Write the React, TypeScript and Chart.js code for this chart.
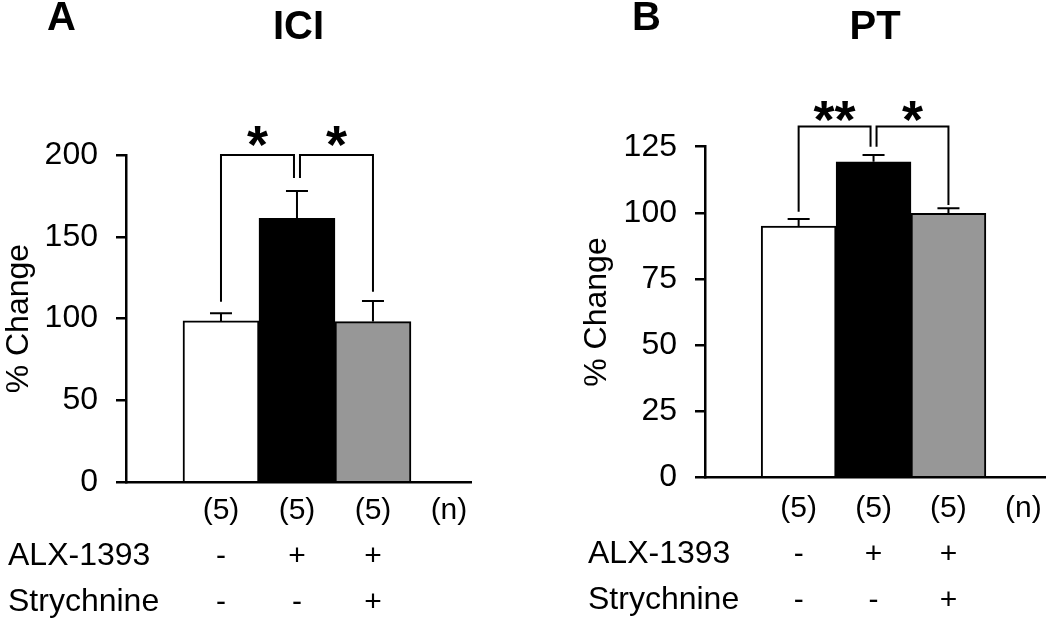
import React, { useEffect, useRef } from 'react';
import { Chart, registerables } from 'chart.js';

Chart.register(...registerables);

const FONT = "'Liberation Sans', Arial, sans-serif";

// ---- data ----
const GROUP_POS = [1, 2, 3];
const TICK_POS = [1, 2, 3, 4];
const X_RANGE = [-0.25, 4.29];
const COUNT_LABELS = ['(5)', '(5)', '(5)', '(n)'];
const ALX_ROW = ['-', '+', '+', ''];
const STRYCH_ROW = ['-', '-', '+', ''];
const ROW_NAMES = ['ALX-1393', 'Strychnine'];
const BAR_COLORS = ['#ffffff', '#000000', '#979797'];

const ICI_MEANS = [98.6, 161.3, 98.2];
const ICI_SEM = [4.7, 16.7, 12.6];
const ICI_Y = [0, 200, 50];

const PT_MEANS = [95.0, 119.3, 99.8];
const PT_SEM = [2.7, 2.6, 1.9];
const PT_Y = [0, 125, 25];

type Sig = { from: number; to: number; label: string; top: number; legs: number[] };

const ICI_SIG: Sig[] = [
  { from: 0, to: 1, label: '*', top: 200, legs: [110.4, 186] },
  { from: 1, to: 2, label: '*', top: 200, legs: [186, 116.5] },
];
const PT_SIG: Sig[] = [
  { from: 0, to: 1, label: '**', top: 132.6, legs: [100.4, 125] },
  { from: 1, to: 2, label: '*', top: 132.6, legs: [125, 103] },
];

// ---- layout (styles / positions) ----
type Layout = {
  yAxisWidth: number; yTitlePad: number; rightPad: number; titlePadBottom: number;
  xAxisHeight: number; xTickPad: number; letterX: number; rowLabelX: number; starOffset: number;
};

const LAYOUT_A: Layout = {
  yAxisWidth: 126, yTitlePad: 0, rightPad: 54, titlePadBottom: 103,
  xAxisHeight: 139.7, xTickPad: 5, letterX: 47, rowLabelX: 8, starOffset: 19,
};
const LAYOUT_B: Layout = {
  yAxisWidth: 180, yTitlePad: 53, rightPad: 0, titlePadBottom: 94.7,
  xAxisHeight: 144.7, xTickPad: 8, letterX: 107, rowLabelX: 63, starOffset: 15,
};

const LINE_H = 46;
const AXIS_W = 2.5;

type Spec = {
  letter: string; title: string; means: number[]; sem: number[]; yRange: number[]; sig: Sig[]; L: Layout;
};

function makeAnnot(spec: Spec) {
  return {
    id: 'annot',
    afterDatasetsDraw(chart: any) {
      const { ctx } = chart;
      const xs = chart.scales.x;
      const ys = chart.scales.y;
      ctx.save();
      ctx.strokeStyle = '#000';
      ctx.lineWidth = 2;
      // error bars (upper only)
      spec.means.forEach((m, i) => {
        const px = xs.getPixelForValue(GROUP_POS[i]);
        const p0 = ys.getPixelForValue(m);
        const p1 = ys.getPixelForValue(m + spec.sem[i]);
        ctx.beginPath();
        ctx.moveTo(px, p0);
        ctx.lineTo(px, p1);
        ctx.moveTo(px - 11, p1);
        ctx.lineTo(px + 11, p1);
        ctx.stroke();
      });
      // significance brackets
      const uses: Record<number, number> = {};
      spec.sig.forEach((s) => {
        uses[s.from] = (uses[s.from] || 0) + 1;
        uses[s.to] = (uses[s.to] || 0) + 1;
      });
      spec.sig.forEach((s) => {
        const xl = xs.getPixelForValue(GROUP_POS[s.from]) + (uses[s.from] > 1 ? 3 : 0);
        const xr = xs.getPixelForValue(GROUP_POS[s.to]) - (uses[s.to] > 1 ? 3 : 0);
        const yt = ys.getPixelForValue(s.top);
        ctx.beginPath();
        ctx.moveTo(xl, ys.getPixelForValue(s.legs[0]));
        ctx.lineTo(xl, yt);
        ctx.lineTo(xr, yt);
        ctx.lineTo(xr, ys.getPixelForValue(s.legs[1]));
        ctx.stroke();
        ctx.font = `bold 54px ${FONT}`;
        ctx.fillStyle = '#000';
        ctx.textAlign = 'center';
        ctx.textBaseline = 'alphabetic';
        const m = ctx.measureText(s.label);
        const cy = yt - spec.L.starOffset;
        const base = cy + (m.actualBoundingBoxAscent - m.actualBoundingBoxDescent) / 2;
        ctx.fillText(s.label, (xl + xr) / 2, base);
      });
      ctx.restore();
    },
    afterDraw(chart: any) {
      const { ctx } = chart;
      const xs = chart.scales.x;
      ctx.save();
      ctx.fillStyle = '#000';
      ctx.font = `32px ${FONT}`;
      ctx.textAlign = 'left';
      ctx.textBaseline = 'middle';
      ROW_NAMES.forEach((name, k) => {
        const y = xs.top + spec.L.xTickPad + LINE_H / 2 + LINE_H * (k + 1);
        ctx.fillText(name, spec.L.rowLabelX, y);
      });
      ctx.font = `bold 40px ${FONT}`;
      ctx.textBaseline = 'alphabetic';
      ctx.fillText(spec.letter, spec.L.letterX, 30);
      ctx.restore();
    },
  };
}

function Panel({ spec, left }: { spec: Spec; left: number }) {
  const ref = useRef<HTMLCanvasElement>(null);
  useEffect(() => {
    const L = spec.L;
    const chart = new Chart(ref.current as HTMLCanvasElement, {
      type: 'bar',
      data: {
        datasets: [
          {
            data: GROUP_POS.map((x, i) => ({ x, y: spec.means[i] })),
            backgroundColor: BAR_COLORS,
            borderColor: '#000',
            borderWidth: 2,
            borderSkipped: 'start',
            categoryPercentage: 1,
            barPercentage: 1,
          } as any,
        ],
      },
      options: {
        responsive: false,
        animation: false,
        devicePixelRatio: 1,
        layout: { padding: { left: 0, right: L.rightPad, top: 0, bottom: 0 } },
        plugins: {
          legend: { display: false },
          tooltip: { enabled: false },
          title: {
            display: true,
            text: spec.title,
            fullSize: false,
            color: '#000',
            font: { family: FONT, size: 40, weight: 'bold', lineHeight: 1.2 },
            padding: { top: 4, bottom: L.titlePadBottom },
          },
        },
        scales: {
          x: {
            type: 'linear',
            min: X_RANGE[0],
            max: X_RANGE[1],
            bounds: 'data',
            offset: false,
            afterBuildTicks: (s: any) => {
              s.ticks = TICK_POS.map((v) => ({ value: v }));
            },
            afterFit: (s: any) => {
              s.height = L.xAxisHeight;
            },
            grid: { display: false, drawTicks: false, tickLength: 0, offset: false },
            border: { display: true, color: '#000', width: AXIS_W },
            ticks: {
              autoSkip: false,
              maxRotation: 0,
              minRotation: 0,
              padding: L.xTickPad,
              color: '#000',
              font: { family: FONT, size: 30, lineHeight: LINE_H / 30 },
              callback: (_v: any, i: number) => [COUNT_LABELS[i], ALX_ROW[i], STRYCH_ROW[i]],
            },
          },
          y: {
            min: spec.yRange[0],
            max: spec.yRange[1],
            afterFit: (s: any) => {
              s.width = L.yAxisWidth;
            },
            grid: { drawOnChartArea: false, drawTicks: true, tickLength: 10, color: '#000', lineWidth: AXIS_W },
            border: { display: true, color: '#000', width: AXIS_W },
            ticks: { stepSize: spec.yRange[2], padding: 18, color: '#000', font: { family: FONT, size: 32 } },
            title: {
              display: true,
              text: '% Change',
              color: '#000',
              font: { family: FONT, size: 32, lineHeight: 1.2 },
              padding: { top: L.yTitlePad, bottom: 0 },
            },
          },
        },
      } as any,
      plugins: [makeAnnot(spec)],
    });
    return () => chart.destroy();
  }, []);
  return (
    <canvas
      ref={ref}
      width={525}
      height={622}
      style={{ position: 'absolute', left, top: 0, width: 525, height: 622 }}
    />
  );
}

const SPEC_A: Spec = { letter: 'A', title: 'ICI', means: ICI_MEANS, sem: ICI_SEM, yRange: ICI_Y, sig: ICI_SIG, L: LAYOUT_A };
const SPEC_B: Spec = { letter: 'B', title: 'PT', means: PT_MEANS, sem: PT_SEM, yRange: PT_Y, sig: PT_SIG, L: LAYOUT_B };

export default function App() {
  return (
    <div style={{ position: 'absolute', left: 0, top: 0, width: 1050, height: 622, background: '#fff', overflow: 'hidden' }}>
      <Panel spec={SPEC_A} left={0} />
      <Panel spec={SPEC_B} left={525} />
    </div>
  );
}
